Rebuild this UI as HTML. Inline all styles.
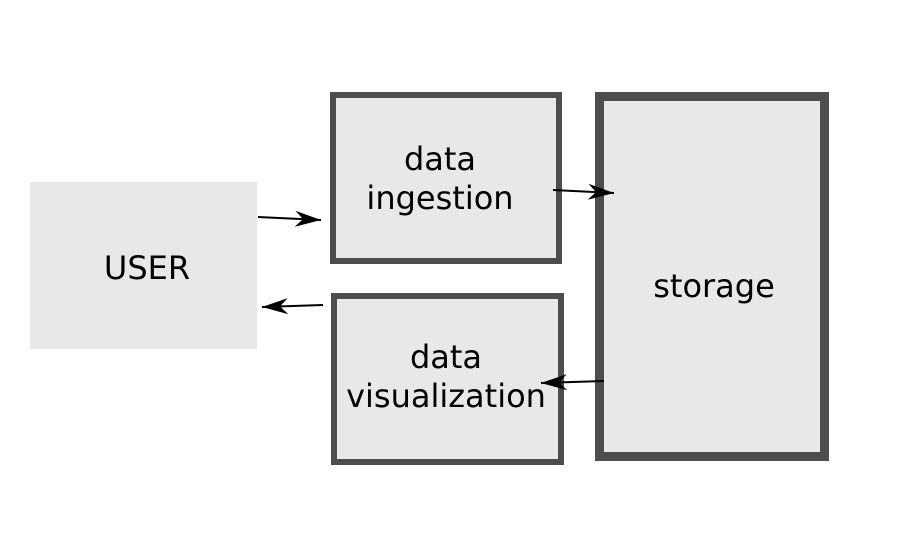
<!DOCTYPE html>
<html><head><style>
body{margin:0;width:898px;height:546px;background:#fff;overflow:hidden}
</style></head><body>
<svg width="898" height="546" xmlns="http://www.w3.org/2000/svg" style="font-family:'DejaVu Sans','Liberation Sans',sans-serif">
<defs>
<marker id="a" viewBox="0 0 26 16" refX="26" refY="8" markerWidth="26" markerHeight="16" markerUnits="userSpaceOnUse" orient="auto">
<path d="M0,0 L26,8 L0,16 L8,8 Z" fill="#000"/>
</marker>
</defs>
<rect x="30" y="182" width="227" height="167" fill="#e8e8e8"/>
<rect x="333" y="95" width="226" height="166" fill="#e8e8e8" stroke="#4d4d4d" stroke-width="6"/>
<rect x="334" y="296" width="227" height="166" fill="#e8e8e8" stroke="#4d4d4d" stroke-width="6"/>
<rect x="599.5" y="96.5" width="225" height="360" fill="#e8e8e8" stroke="#4d4d4d" stroke-width="9"/>
<g font-size="32" fill="#000" text-anchor="middle">
<text x="147" y="279">USER</text>
<text x="440" y="170">data</text>
<text x="440" y="209">ingestion</text>
<text x="446" y="368">data</text>
<text x="446" y="407">visualization</text>
<text x="714" y="297">storage</text>
</g>
<g stroke="#000" stroke-width="2" fill="none">
<line x1="258" y1="217" x2="321" y2="220" marker-end="url(#a)"/>
<line x1="323" y1="305" x2="262" y2="307" marker-end="url(#a)"/>
<line x1="553" y1="190" x2="614" y2="193" marker-end="url(#a)"/>
<line x1="604" y1="381" x2="541" y2="383" marker-end="url(#a)"/>
</g>
</svg>
</body></html>
